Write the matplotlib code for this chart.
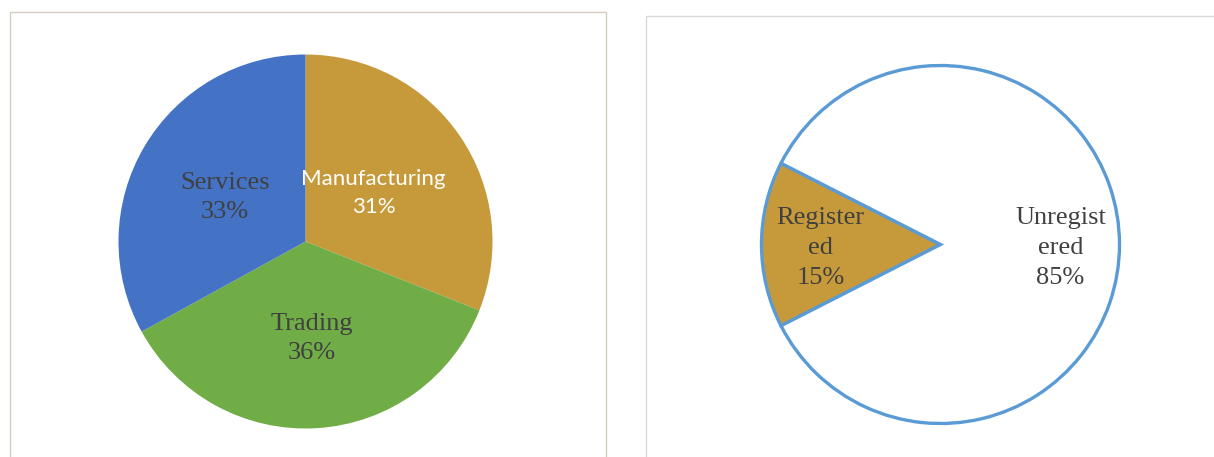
import matplotlib
matplotlib.use("Agg")
import matplotlib.pyplot as plt
from matplotlib.patches import Rectangle

# Left chart: business sector
sector_labels = ["Manufacturing", "Trading", "Services"]
sector_values = [31, 36, 33]
sector_colors = ["#C69A3B", "#70AD47", "#4472C4"]

# Right chart: registration status
reg_labels = ["Register\ned", "Unregist\nered"]
reg_values = [15, 85]
reg_colors = ["#C69A3B", "#FFFFFF"]

DPI = 100
fig = plt.figure(figsize=(12.14, 4.57), dpi=DPI)
fig.patch.set_facecolor("white")

W, H = 1214, 457

# panel frames
fig.patches.append(Rectangle((10 / W, -0.05), 596 / W, (457 - 12) / H + 0.05,
                             transform=fig.transFigure, fill=False,
                             edgecolor="#D3CDBF", linewidth=1.0))
fig.patches.append(Rectangle((646 / W, -0.05), 600 / W, (457 - 16) / H + 0.05,
                             transform=fig.transFigure, fill=False,
                             edgecolor="#D9D9D9", linewidth=1.0))

serif = ["Liberation Serif", "DejaVu Serif"]
text_color = "#404040"
SHIFT = 0.02  # small downward nudge of serif labels

# ---- left pie ----
cx, cy, r = 305.5, 241.5, 187
ax1 = fig.add_axes([(cx - r) / W, (H - cy - r) / H, 2 * r / W, 2 * r / H])
w1, t1, a1 = ax1.pie(sector_values, colors=sector_colors, startangle=90,
                     counterclock=False, autopct="%1.0f%%", pctdistance=0.5,
                     radius=1.0, wedgeprops=dict(linewidth=0))
ax1.set_xlim(-1, 1)
ax1.set_ylim(-1, 1)
ax1.set_aspect("equal")
ax1.axis("off")
for lab, at in zip(sector_labels, a1):
    at.set_text(f"{lab}\n{at.get_text()}")
    px, py = at.get_position()
    if lab == "Manufacturing":
        at.set_position((px * 0.88, py * 0.92))
        at.set_fontfamily(["Lato", "DejaVu Sans"])
        at.set_fontsize(16)
        at.set_color("white")
        at.set_linespacing(1.5)
    else:
        at.set_position((px, py - SHIFT))
        at.set_fontfamily(serif)
        at.set_fontsize(19)
        at.set_color(text_color)
        at.set_linespacing(1.45)

# ---- right pie ----
cx2, cy2, r2 = 940.5, 244.5, 179
ax2 = fig.add_axes([(cx2 - r2) / W, (H - cy2 - r2) / H, 2 * r2 / W, 2 * r2 / H])
w2, t2, a2 = ax2.pie(reg_values, colors=reg_colors,
                     startangle=180 - reg_values[0] / 100 * 180,
                     counterclock=True, autopct="%1.0f%%", pctdistance=0.67,
                     radius=1.0,
                     wedgeprops=dict(linewidth=2.4, edgecolor="#5B9BD5"))
for w in w2:
    w.set_clip_on(False)
ax2.set_xlim(-1, 1)
ax2.set_ylim(-1, 1)
ax2.set_aspect("equal")
ax2.axis("off")
for lab, at in zip(reg_labels, a2):
    at.set_text(f"{lab}\n{at.get_text()}")
    px, py = at.get_position()
    at.set_position((px, py - SHIFT))
    at.set_fontfamily(serif)
    at.set_fontsize(19)
    at.set_color(text_color)
    at.set_linespacing(1.45)

fig.savefig("out.png", dpi=DPI, facecolor="white")
